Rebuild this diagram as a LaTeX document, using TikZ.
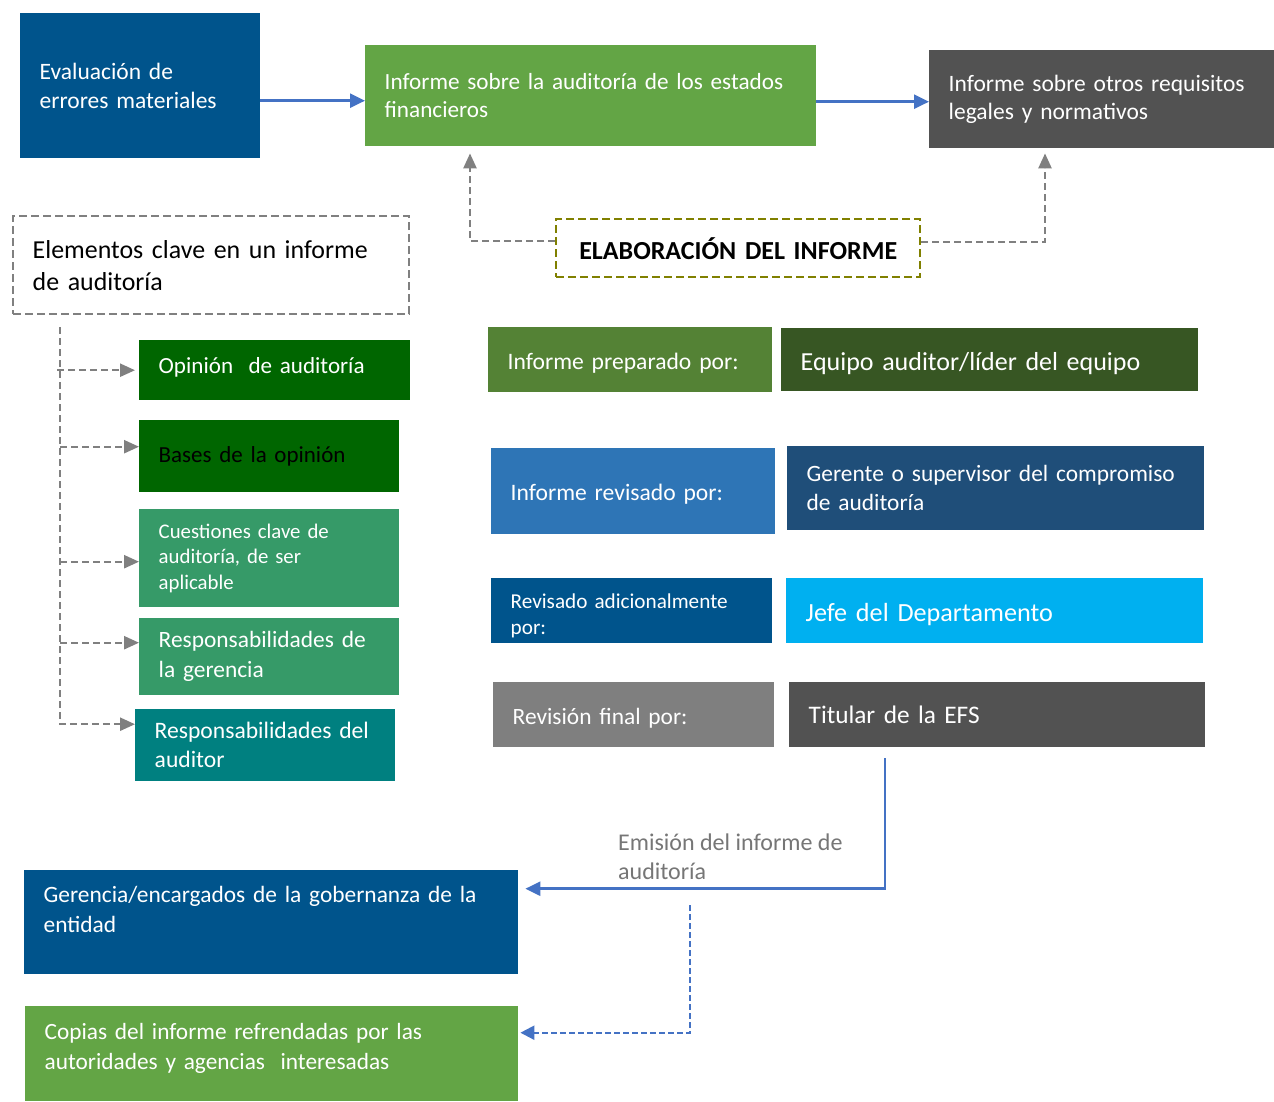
\documentclass[tikz,border=0pt]{standalone}
\usepackage{fontspec}
\setmainfont{Carlito}
\usetikzlibrary{arrows.meta,calc}

\definecolor{cNavy}{RGB}{0,84,140}
\definecolor{cGreen}{RGB}{99,165,69}
\definecolor{cDgray}{RGB}{82,82,82}
\definecolor{cDkgreen}{RGB}{0,102,0}
\definecolor{cMgreen}{RGB}{54,154,104}
\definecolor{cTeal}{RGB}{0,128,128}
\definecolor{cPrep}{RGB}{84,130,53}
\definecolor{cEquipo}{RGB}{55,86,35}
\definecolor{cRev}{RGB}{46,117,182}
\definecolor{cGeren}{RGB}{31,78,121}
\definecolor{cJefe}{RGB}{0,176,240}
\definecolor{cMgray}{RGB}{127,127,127}
\definecolor{cLine}{RGB}{128,128,128}
\definecolor{cOlive}{RGB}{128,128,0}
\definecolor{cArrow}{RGB}{68,114,196}
\definecolor{cLabel}{RGB}{118,118,118}

\newcommand\fsz[2]{\fontsize{#1}{#2}\selectfont}

\tikzset{
  box/.style={rectangle, anchor=north west, inner xsep=19.5pt, inner ysep=0pt,
              align=left, text=white},
  graydash/.style={draw=cLine, line width=2.4pt, dash pattern=on 7pt off 4pt,
                   -{Triangle[length=15pt,width=13pt]}},
  bluearrow/.style={draw=cArrow, line width=2.5pt,
                    -{Triangle[length=15pt,width=14pt]}},
  bluedash/.style={draw=cArrow, line width=2.2pt, dash pattern=on 6pt off 3pt,
                   -{Triangle[length=14pt,width=14pt]}},
}

\begin{document}
\begin{tikzpicture}[x=1pt,y=-1pt]
\useasboundingbox[fill=white] (0,0) rectangle (1274,1101);

% top row
\node[box, fill=cNavy, minimum width=240, minimum height=145, text width=201pt,
      font=\fsz{23.5}{29}] (eval) at (20,13) {Evaluación de\\errores materiales};
\node[box, fill=cGreen, minimum width=451, minimum height=101, text width=412pt,
      font=\fsz{23.2}{28}] (inf) at (365,45) {Informe sobre la auditoría de los estados\\financieros};
\node[box, fill=cDgray, minimum width=345, minimum height=98, text width=306pt,
      font=\fsz{23.5}{28}] (otros) at (929,50) {Informe sobre otros requisitos\\legales y normativos};

% dashed boxes
\node[box, draw=cLine, line width=2.4pt, dash pattern=on 8pt off 4pt, text=black,
      minimum width=396, minimum height=98, text width=357pt,
      font=\fsz{25.9}{32}] (elem) at (12,215) {Elementos clave en un informe\\de auditoría};
\node[box, draw=cOlive, line width=2.4pt, dash pattern=on 8pt off 4pt, text=black,
      align=center, minimum width=364, minimum height=58, text width=325pt,
      font=\fsz{26}{30}\bfseries] (elab) at (555,218) {ELABORACIÓN DEL INFORME};

% key elements list
\node[box, fill=cDkgreen, minimum width=271, minimum height=60, text width=232pt,
      font=\fsz{23.1}{27}] (opin) at (139,340) {Opinión\ \ de auditoría\rule[-9pt]{0pt}{1pt}};
\node[box, fill=cDkgreen, text=black, minimum width=260, minimum height=72, text width=221pt,
      font=\fsz{23}{27}] (bases) at (139,420) {Bases de la opinión};
\node[box, fill=cMgreen, minimum width=260, minimum height=98, text width=221pt,
      font=\fsz{20.8}{25.5}] (cuest) at (139,509) {Cuestiones clave de\\auditoría, de ser\\aplicable};
\node[box, fill=cMgreen, minimum width=260, minimum height=77, text width=221pt,
      font=\fsz{23.4}{30}] (respg) at (139,618) {Responsabilidades de\\la gerencia};
\node[box, fill=cTeal, minimum width=260, minimum height=72, text width=221pt,
      font=\fsz{23.6}{29}] (respa) at (135,709) {Responsabilidades del\\auditor};

% preparation and review chain
\node[box, fill=cPrep, minimum width=284, minimum height=65, text width=245pt,
      font=\fsz{23.6}{28}] (prep) at (488,327) {\rule{0pt}{24pt}Informe preparado por:};
\node[box, fill=cEquipo, minimum width=417, minimum height=63, text width=378pt,
      font=\fsz{26}{30}] (equipo) at (781,328) {\rule{0pt}{26pt}Equipo auditor/líder del equipo};
\node[box, fill=cRev, minimum width=284, minimum height=86, text width=245pt,
      font=\fsz{23.6}{28}] (revp) at (491,448) {\rule{0pt}{22pt}Informe revisado por:};
\node[box, fill=cGeren, minimum width=417, minimum height=84, text width=378pt,
      font=\fsz{23.4}{29}] (geren) at (787,446) {Gerente o supervisor del compromiso\\de auditoría};
\node[box, fill=cNavy, minimum width=281, minimum height=65, text width=242pt,
      font=\fsz{21.2}{26}] (revad) at (491,578) {\rule{0pt}{24pt}Revisado adicionalmente\\por:};
\node[box, fill=cJefe, minimum width=417, minimum height=65, text width=378pt,
      font=\fsz{26.2}{30}] (jefe) at (786,578) {\rule{0pt}{26pt}Jefe del Departamento};
\node[box, fill=cMgray, minimum width=281, minimum height=65, text width=242pt,
      font=\fsz{23.4}{28}] (revf) at (493,682) {\rule{0pt}{24pt}Revisión final por:};
\node[box, fill=cDgray, minimum width=416, minimum height=65, text width=377pt,
      font=\fsz{25.3}{29}] (titular) at (789,682) {Titular de la EFS};

% recipients
\node[box, fill=cNavy, minimum width=494, minimum height=104, text width=455pt,
      font=\fsz{23.4}{30}] (gob) at (24,870)
      {Gerencia/encargados de la gobernanza de la\\entidad\\[-4pt]\mbox{}};
\node[box, fill=cGreen, minimum width=493, minimum height=95, text width=454pt,
      font=\fsz{23.3}{30}] (copias) at (25,1006)
      {Copias del informe refrendadas por las\\autoridades y agencias\ \ interesadas\\[-16pt]\mbox{}};

\node[anchor=north west, inner sep=0pt, align=left, text=cLabel,
      font=\fsz{24}{29}] (emis) at (618,834) {Emisión del informe de\\auditoría};

% flow along the top row
\draw[bluearrow] ([yshift=-15pt]eval.east) -- ([yshift=-15pt]eval.east -| inf.west);
\draw[bluearrow] ([yshift=-6pt]inf.east) -- ([yshift=-6pt]inf.east -| otros.west);

% report preparation feeds both reports
\draw[graydash] ([yshift=7pt]elab.west) -| ([xshift=105pt,yshift=-7pt]inf.south west);
\draw[graydash] ([yshift=6pt]elab.east) -| ([xshift=116pt,yshift=-5pt]otros.south west);

% key elements tree
\coordinate (trunk) at (60,327);
\draw[graydash] ([xshift=-3pt]opin.west -| trunk) -- ([xshift=-4pt]opin.west);
\draw[graydash] ([yshift=9.5pt]bases.west -| trunk) -- ([yshift=9.5pt]bases.west);
\draw[graydash] ([yshift=-3.5pt]cuest.west -| trunk) -- ([yshift=-3.5pt]cuest.west);
\draw[graydash] ([yshift=14pt]respg.west -| trunk) -- ([yshift=14pt]respg.west);
\draw[graydash] (trunk) |- ([yshift=21pt]respa.west);

% issuing the report
\coordinate (issue) at (885,758);
\draw[bluearrow] (issue) |- ([yshift=33.5pt,xshift=7pt]gob.east);
\coordinate (copy) at (690,905);
\draw[bluedash] (copy) |- ([yshift=21pt,xshift=2pt]copias.east);
\end{tikzpicture}
\end{document}
